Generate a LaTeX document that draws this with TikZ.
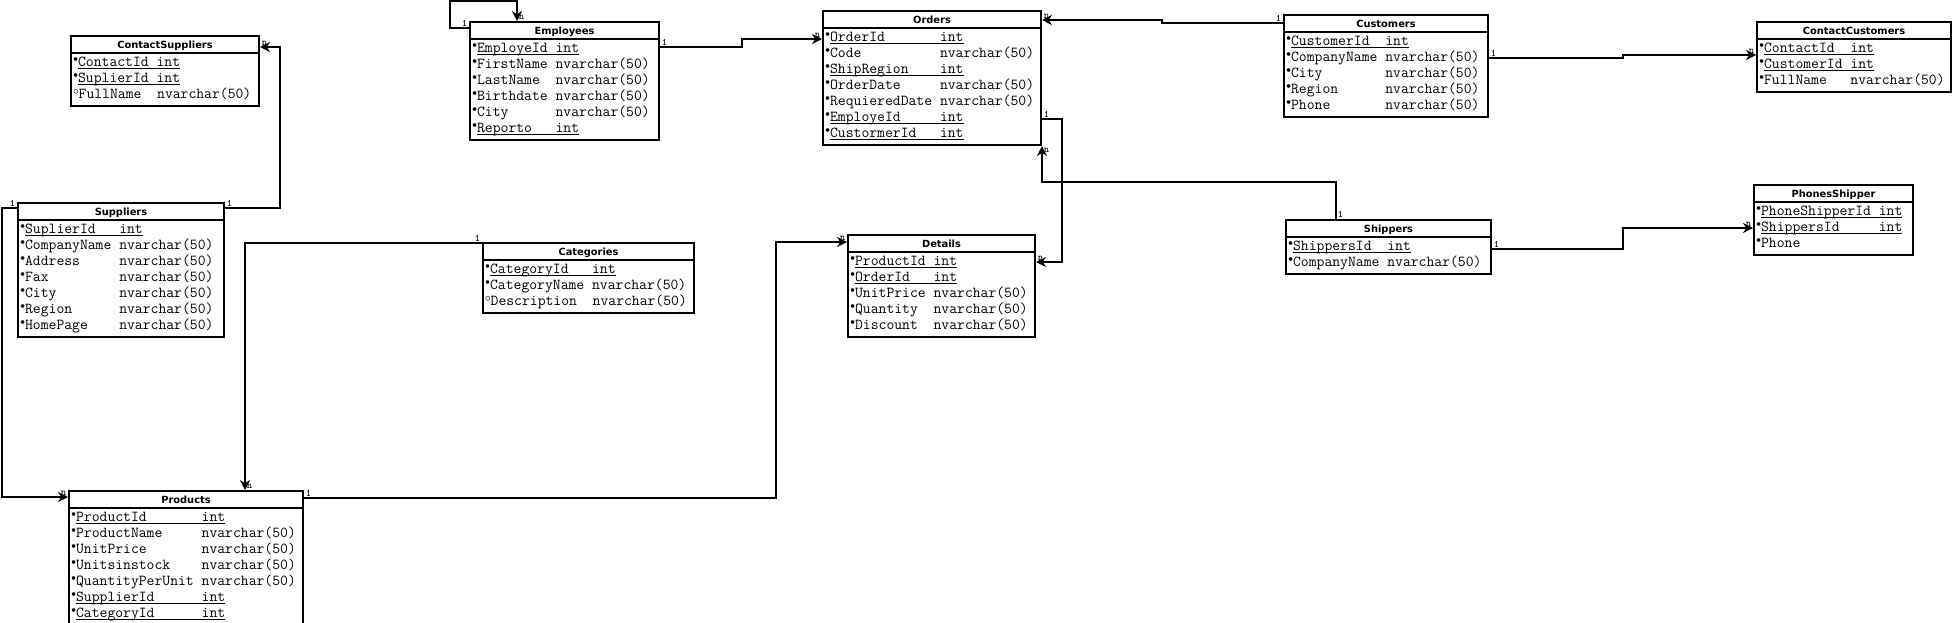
\documentclass[tikz,border=0pt]{standalone}
\usepackage{fontspec}
\newfontfamily\ttlfont{DejaVu Sans}
\usetikzlibrary{shapes.multipart,arrows.meta,calc}

% field marks and key underline
\newcommand\fk{\raisebox{4.2pt}{$\scriptscriptstyle\bullet$}}
\newcommand\fo{\raisebox{3.4pt}{$\scriptstyle\circ$}}
\newcommand\keyf[1]{\underline{\raisebox{0pt}[\height][0pt]{#1}}}
\newcommand\tabtitle[1]{\rule[-2.15pt]{0pt}{9.5pt}{\ttlfont\bfseries\fontsize{7.4}{9}\selectfont #1}}
\newcommand\fieldrows[1]{\begin{tabular}{@{}l@{}}#1\end{tabular}}

\tikzset{
  entity/.style={draw, line width=1.5pt, fill=white, rectangle split, rectangle split parts=2,
    rectangle split part align={center,left}, anchor=north west,
    inner xsep=1.5pt, inner ysep=1pt, font=\fontsize{11.43}{12}\selectfont\ttfamily},
  rel/.style={line width=1.5pt, -{Stealth[length=7.5pt,width=7.5pt,inset=2.5pt]}},
  card/.style={font=\fontsize{7.5}{8}\selectfont\ttfamily, inner sep=0.6pt}
}

\begin{document}
\begin{tikzpicture}[x=0.75pt,y=-0.75pt]
\useasboundingbox (0,0) rectangle (1952,623);
\clip (0,0) rectangle (1952,623);

% tables
\node[entity, minimum width=188*0.75pt] (cs) at (70,35) {\tabtitle{ContactSuppliers}\nodepart{two}\fieldrows{
  \fk\keyf{ContactId~int}\\
  \fk\keyf{SuplierId~int}\\
  \fo FullName~~nvarchar(50)}};
\node[entity, minimum width=206*0.75pt] (sup) at (17,202) {\tabtitle{Suppliers}\nodepart{two}\fieldrows{
  \fk\keyf{SuplierId~~~int}\\
  \fk CompanyName~nvarchar(50)\\
  \fk Address~~~~~nvarchar(50)\\
  \fk Fax~~~~~~~~~nvarchar(50)\\
  \fk City~~~~~~~~nvarchar(50)\\
  \fk Region~~~~~~nvarchar(50)\\
  \fk HomePage~~~~nvarchar(50)}};
\node[entity, minimum width=189*0.75pt] (emp) at (469,21) {\tabtitle{Employees}\nodepart{two}\fieldrows{
  \fk\keyf{EmployeId~int}\\
  \fk FirstName~nvarchar(50)\\
  \fk LastName~~nvarchar(50)\\
  \fk Birthdate~nvarchar(50)\\
  \fk City~~~~~~nvarchar(50)\\
  \fk\keyf{Reporto~~~int}}};
\node[entity, minimum width=218*0.75pt] (ord) at (822,10) {\tabtitle{Orders}\nodepart{two}\fieldrows{
  \fk\keyf{OrderId~~~~~~~int}\\
  \fk Code~~~~~~~~~~nvarchar(50)\\
  \fk\keyf{ShipRegion~~~~int}\\
  \fk OrderDate~~~~~nvarchar(50)\\
  \fk RequieredDate~nvarchar(50)\\
  \fk\keyf{EmployeId~~~~~int}\\
  \fk\keyf{CustormerId~~~int}}};
\node[entity, minimum width=204*0.75pt] (cus) at (1283,14) {\tabtitle{Customers}\nodepart{two}\fieldrows{
  \fk\keyf{CustomerId~~int}\\
  \fk CompanyName~nvarchar(50)\\
  \fk City~~~~~~~~nvarchar(50)\\
  \fk Region~~~~~~nvarchar(50)\\
  \fk Phone~~~~~~~nvarchar(50)}};
\node[entity, minimum width=194*0.75pt] (cc) at (1756,21) {\tabtitle{ContactCustomers}\nodepart{two}\fieldrows{
  \fk\keyf{ContactId~~int}\\
  \fk\keyf{CustomerId~int}\\
  \fk FullName~~~nvarchar(50)}};
\node[entity, minimum width=211*0.75pt] (cat) at (482,242) {\tabtitle{Categories}\nodepart{two}\fieldrows{
  \fk\keyf{CategoryId~~~int}\\
  \fk CategoryName~nvarchar(50)\\
  \fo Description~~nvarchar(50)}};
\node[entity, minimum width=187*0.75pt] (det) at (847,234) {\tabtitle{Details}\nodepart{two}\fieldrows{
  \fk\keyf{ProductId~int}\\
  \fk\keyf{OrderId~~~int}\\
  \fk UnitPrice~nvarchar(50)\\
  \fk Quantity~~nvarchar(50)\\
  \fk Discount~~nvarchar(50)}};
\node[entity, minimum width=205*0.75pt] (shp) at (1285,219) {\tabtitle{Shippers}\nodepart{two}\fieldrows{
  \fk\keyf{ShippersId~~int}\\
  \fk CompanyName~nvarchar(50)}};
\node[entity, minimum width=159*0.75pt] (ps) at (1753,184) {\tabtitle{PhonesShipper}\nodepart{two}\fieldrows{
  \fk\keyf{PhoneShipperId~int}\\
  \fk\keyf{ShippersId~~~~~int}\\
  \fk Phone}};
\node[entity, minimum width=234*0.75pt] (prd) at (68,490) {\tabtitle{Products}\nodepart{two}\fieldrows{
  \fk\keyf{ProductId~~~~~~~int}\\
  \fk ProductName~~~~~nvarchar(50)\\
  \fk UnitPrice~~~~~~~nvarchar(50)\\
  \fk Unitsinstock~~~~nvarchar(50)\\
  \fk QuantityPerUnit~nvarchar(50)\\
  \fk\keyf{SupplierId~~~~~~int}\\
  \fk\keyf{CategoryId~~~~~~int}}};

% relations
\draw[rel] ($(emp.north west)+(0,7)$) node[card, above left] {1} -- ++(-19,0)
  |- ($(emp.north west)+(48,-20)$) -- ($(emp.north west)+(48,0)$) node[card, above right] {n};
\draw[rel] ($(emp.north east)+(0,26)$) node[card, above right] {1} -- ++(82,0)
  |- ($(ord.north west)+(0,29)$) node[card, above left] {n};
\draw[rel] ($(cus.north west)+(0,9)$) node[card, above left] {1} -- ++(-121,0)
  |- ($(ord.north east)+(0,10)$) node[card, above right] {n};
\draw[rel] ($(cus.north east)+(0,44)$) node[card, above right] {1} -- ++(134,0)
  |- ($(cc.north west)+(0,34)$) node[card, above left] {n};
\draw[rel] ($(ord.north east)+(0,109)$) node[card, above right] {1} -- ++(20,0)
  |- ($(det.north east)+(0,28)$) node[card, above right] {n};
\draw[rel] ($(shp.north west)+(51,0)$) node[card, above right] {1} -- ++(0,-37)
  -| (ord.south east) node[card, below right] {n};
\draw[rel] ($(shp.north east)+(0,30)$) node[card, above right] {1} -- ++(131,0)
  |- ($(ps.north west)+(0,44)$) node[card, above left] {n};
\draw[rel] ($(sup.north east)+(0,6)$) node[card, above right] {1} -- ++(55,0)
  |- ($(cs.north east)+(0,12)$) node[card, above right] {n};
\draw[rel] ($(sup.north west)+(0,6)$) node[card, above left] {1} -- ++(-15,0)
  |- ($(prd.north west)+(0,7)$) node[card, above left] {n};
\draw[rel] ($(cat.north west)+(0,1)$) node[card, above left] {1}
  -| ($(prd.north west)+(177,0)$) node[card, above right] {n};
\draw[rel] ($(prd.north east)+(0,8)$) node[card, above right] {1} -- ++(472,0)
  |- ($(det.north west)+(0,8)$) node[card, above left] {n};
\end{tikzpicture}
\end{document}
